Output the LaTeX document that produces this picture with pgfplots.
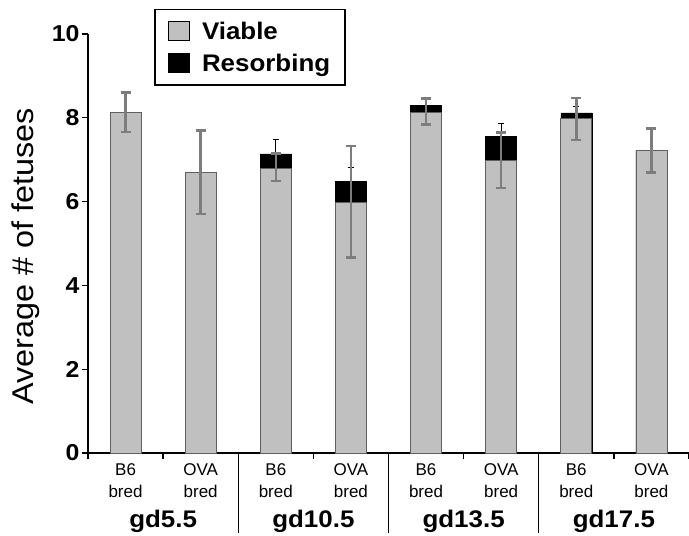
\documentclass[border=0pt]{standalone}
\usepackage{fontspec}
\setmainfont{Liberation Sans}
\newfontfamily\widefont[FakeStretch=1.08]{Liberation Sans}
\usepackage{pgfplots}
\pgfplotsset{compat=1.18}

\definecolor{barGray}{RGB}{192,192,192}
\definecolor{edgeGray}{RGB}{95,95,95}
\definecolor{errGray}{RGB}{125,125,125}

\begin{document}
\begin{tikzpicture}
\path[use as bounding box] (-88pt,-83pt) rectangle (601pt,453pt);
\begin{axis}[
  scale only axis,
  width=601pt, height=419pt,
  xmin=-0.5, xmax=7.5, ymin=0, ymax=10,
  axis lines=left,
  axis line style={-, line width=1.3pt},
  tick align=outside,
  major tick length=6pt,
  tick style={black, line width=1.3pt},
  ytick={0,2,...,10},
  yticklabel style={font=\widefont\fontsize{23}{23}\selectfont\bfseries, xshift=1pt},
  /pgf/number format/assume math mode=true,
  xtick={-0.5,0.5,...,7.5},
  xticklabels={},
  extra x ticks={0,...,7},
  extra x tick labels={B6\\bred, OVA\\bred, B6\\bred, OVA\\bred, B6\\bred, OVA\\bred, B6\\bred, OVA\\bred},
  extra x tick style={tick style={draw=none}},
  xticklabel style={align=center, font=\fontsize{17}{22}\selectfont, yshift=-1pt},
  ylabel={Average \# of fetuses},
  ylabel style={font=\widefont\fontsize{30}{30}\selectfont, at={(axis description cs:-0.0915,0.47)}, anchor=base},
  clip=false,
  legend style={at={(0.110,1.0597)}, anchor=north west, draw=black, line width=1.5pt,
    font=\widefont\fontsize{24}{24}\selectfont\bfseries, inner xsep=13pt, inner ysep=10pt,
    row sep=9.5pt, cells={anchor=west}},
  legend image code/.code={\draw[#1, line width=0.8pt] (0pt,-9pt) rectangle (21pt,10pt); \path (31pt,0pt);},
]
% total height (viable + resorbing) drawn black, viable drawn grey over it
\addplot[ybar, bar width=31pt, bar shift=0pt, fill=black, draw=black, forget plot]
  coordinates {(0,8.13) (1,6.70) (2,7.14) (3,6.48) (4,8.30) (5,7.55) (6,8.12) (7,7.22)};
\addplot[ybar, bar width=31pt, bar shift=0pt, fill=barGray, draw=edgeGray, line width=0.8pt, forget plot]
  coordinates {(0,8.13) (1,6.70) (2,6.80) (3,5.98) (4,8.13) (5,6.98) (6,7.99) (7,7.22)};
% resorbing error bars (thin, black)
\addplot[draw=none, mark=none, forget plot,
  error bars/.cd, y dir=plus, y explicit,
  error bar style={draw=black, line width=0.8pt},
  error mark options={draw=black, rotate=90, mark size=3pt, line width=0.8pt}]
  coordinates {(2,7.14) +- (0,0.35) (3,6.48) +- (0,0.33) (4,8.30) +- (0,0.17) (5,7.55) +- (0,0.32) (6,8.12) +- (0,0.16)};
% viable error bars (thick, grey)
\addplot[draw=none, mark=none, forget plot,
  error bars/.cd, y dir=both, y explicit,
  error bar style={draw=errGray, line width=2.5pt},
  error mark options={draw=errGray, rotate=90, mark size=5pt, line width=2.5pt}]
  coordinates {(0,8.13) +- (0,0.47) (1,6.70) +- (0,1.00) (2,6.82) +- (0,0.33) (3,6.00) +- (0,1.33)
               (4,8.15) +- (0,0.31) (5,6.99) +- (0,0.66) (6,7.97) +- (0,0.50) (7,7.22) +- (0,0.52)};
\addlegendimage{fill=barGray, draw=black}
\addlegendentry{Viable}
\addlegendimage{fill=black, draw=black}
\addlegendentry{Resorbing}
% group separators and group names
\draw[line width=1.3pt] (axis cs:1.5,0) -- ++(0pt,-80pt);
\draw[line width=1.3pt] (axis cs:3.5,0) -- ++(0pt,-80pt);
\draw[line width=1.3pt] (axis cs:5.5,0) -- ++(0pt,-80pt);
\node[font=\widefont\fontsize{24}{24}\selectfont\bfseries] at (axis cs:0.5,0) [yshift=-68pt] {gd5.5};
\node[font=\widefont\fontsize{24}{24}\selectfont\bfseries] at (axis cs:2.5,0) [yshift=-68pt] {gd10.5};
\node[font=\widefont\fontsize{24}{24}\selectfont\bfseries] at (axis cs:4.5,0) [yshift=-68pt] {gd13.5};
\node[font=\widefont\fontsize{24}{24}\selectfont\bfseries] at (axis cs:6.5,0) [yshift=-68pt] {gd17.5};
\end{axis}
\end{tikzpicture}
\end{document}
